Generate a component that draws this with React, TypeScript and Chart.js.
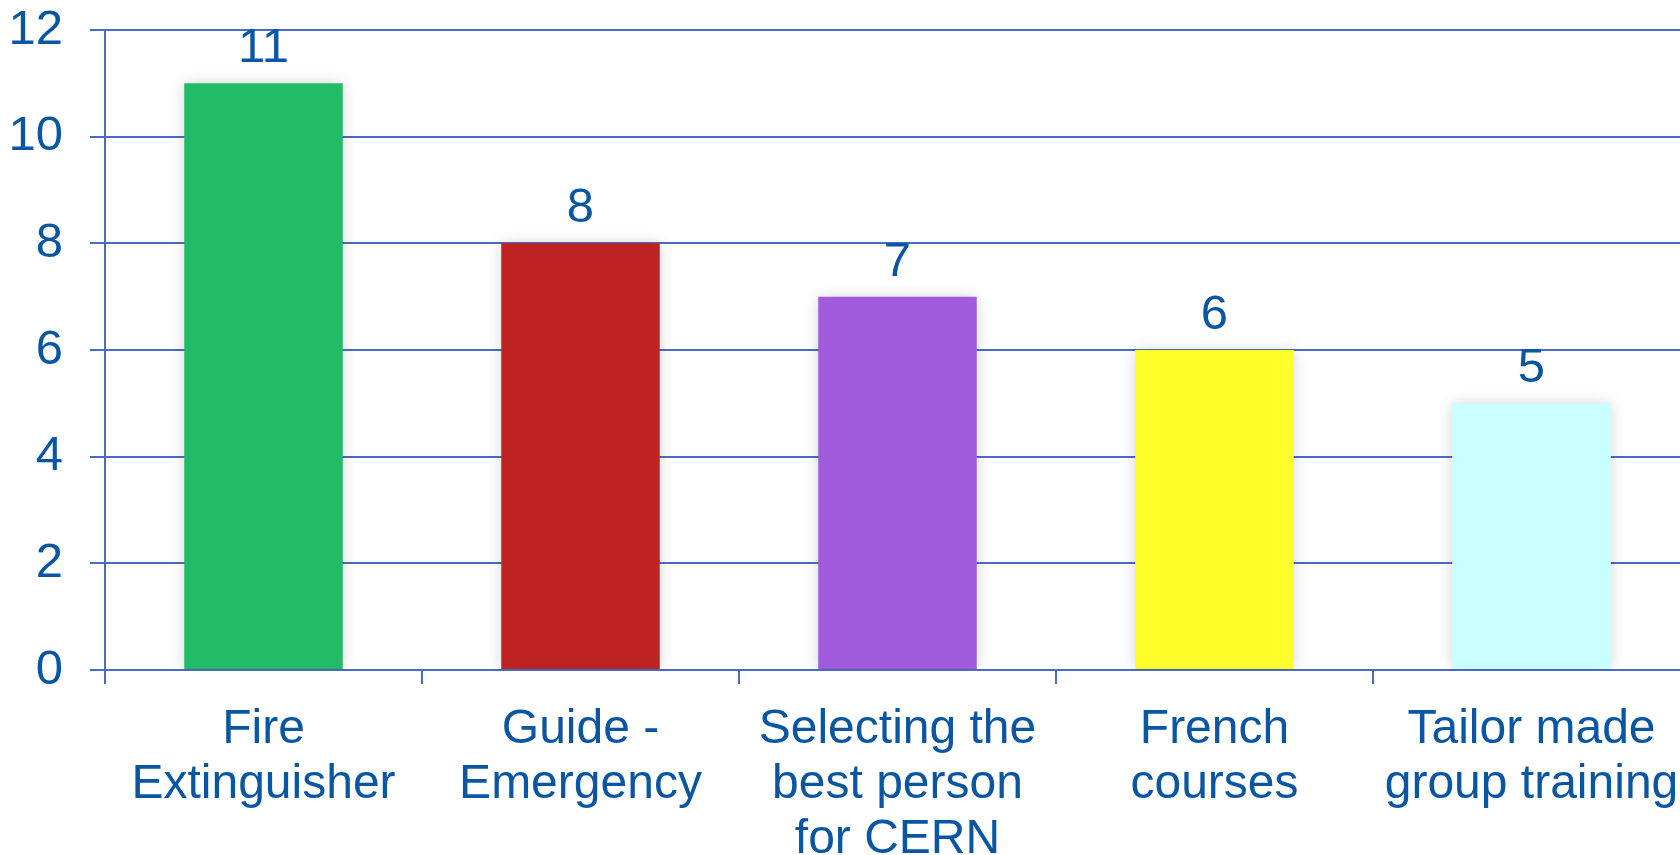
import React, { useEffect, useRef } from "react";
import { Chart, registerables } from "chart.js";

Chart.register(...registerables);

const categories: string[][] = [
  ["Fire", "Extinguisher"],
  ["Guide -", "Emergency"],
  ["Selecting the", "best person", "for CERN"],
  ["French", "courses"],
  ["Tailor made", "group training"],
];
const values: number[] = [11, 8, 7, 6, 5];
const barColors: string[] = ["#22BB68", "#BE2222", "#A05CDC", "#FEFE2A", "#C8FFFF"];
const yTicks: number[] = [0, 2, 4, 6, 8, 10, 12];

const TEXT = "#0A56A2";
const LINE = "#4A6CC6";
const FONT = '"Liberation Sans", Arial, sans-serif';

const shadowPlugin = {
  id: "barShadow",
  beforeDatasetDraw(chart: any) {
    const ctx = chart.ctx;
    ctx.save();
    ctx.shadowColor = "rgba(0,0,0,0.16)";
    ctx.shadowBlur = 14;
  },
  afterDatasetDraw(chart: any) {
    chart.ctx.restore();
  },
};

const valueLabelPlugin = {
  id: "valueLabels",
  afterDatasetsDraw(chart: any) {
    const ctx = chart.ctx;
    const meta = chart.getDatasetMeta(0);
    ctx.save();
    ctx.font = `49px ${FONT}`;
    ctx.fillStyle = TEXT;
    ctx.textAlign = "center";
    ctx.textBaseline = "alphabetic";
    meta.data.forEach((el: any, i: number) => {
      ctx.fillText(String(values[i]), el.x, el.y - 21);
    });
    ctx.restore();
  },
};

export default function App() {
  const ref = useRef<HTMLCanvasElement | null>(null);
  useEffect(() => {
    if (!ref.current) return;
    const chart = new Chart(ref.current, {
      type: "bar",
      data: {
        labels: categories,
        datasets: [
          {
            data: values,
            backgroundColor: barColors,
            borderWidth: 0,
            barPercentage: 0.5,
            categoryPercentage: 1,
          },
        ],
      },
      options: {
        animation: false,
        responsive: false,
        devicePixelRatio: 1,
        layout: { padding: { top: 30, right: 10, left: 0, bottom: 0 } },
        plugins: {
          legend: { display: false },
          tooltip: { enabled: false },
        },
        scales: {
          x: {
            afterFit(scale: any) {
              scale.height = 185;
              scale.paddingLeft = 0;
              scale.paddingRight = 0;
            },
            grid: {
              offset: true,
              drawOnChartArea: false,
              drawTicks: true,
              tickLength: 14,
              color: LINE,
              lineWidth: 2,
            },
            border: { color: LINE, width: 2 },
            ticks: {
              color: TEXT,
              font: { family: FONT, size: 48, lineHeight: 1.15 },
              maxRotation: 0,
              minRotation: 0,
              autoSkip: false,
              padding: 18,
            },
          },
          y: {
            min: 0,
            max: 12,
            afterFit(scale: any) {
              scale.width = 105;
              scale.paddingTop = 0;
              scale.paddingBottom = 0;
            },
            afterBuildTicks(scale: any) {
              scale.ticks = yTicks.map((v) => ({ value: v }));
            },
            grid: {
              color: LINE,
              lineWidth: 2,
              drawTicks: true,
              tickLength: 15,
            },
            border: { color: LINE, width: 2 },
            ticks: {
              color: TEXT,
              font: { family: FONT, size: 49 },
              padding: 27,
            },
          },
        },
      },
      plugins: [shadowPlugin, valueLabelPlugin],
    });
    return () => chart.destroy();
  }, []);
  return (
    <div
      style={{
        position: "fixed",
        left: 0,
        top: 0,
        width: 1680,
        height: 855,
        overflow: "hidden",
        background: "#ffffff",
      }}
    >
      <canvas ref={ref} width={1700} height={855} style={{ display: "block" }} />
    </div>
  );
}
